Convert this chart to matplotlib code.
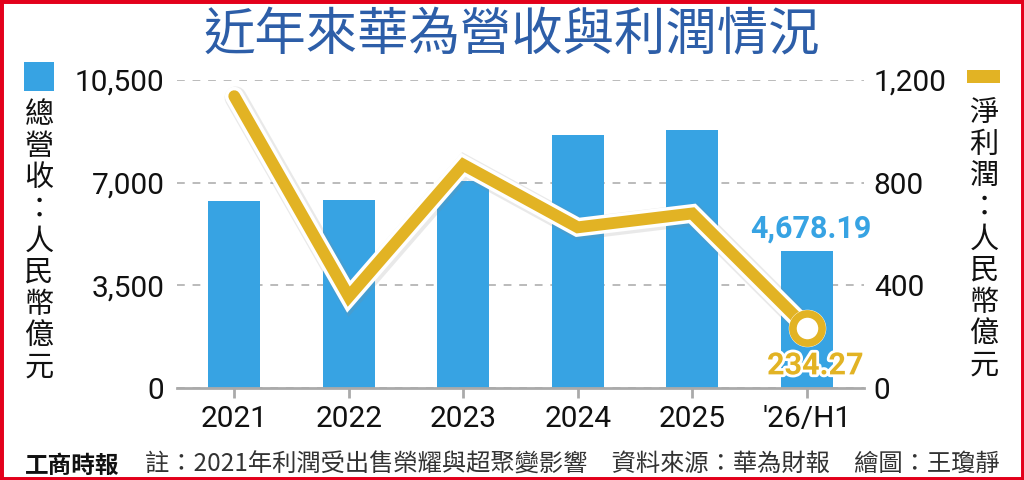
import matplotlib
matplotlib.use("Agg")
import matplotlib.pyplot as plt
import matplotlib.patheffects as pe
from matplotlib.patches import Rectangle

# data (人民幣億元)
years = ["2021", "2022", "2023", "2024", "2025", "'26/H1"]
revenue = [6368, 6423, 7042, 8621, 8800, 4678.19]
net_profit = [1137, 356, 870, 626, 680, 234.27]

rev_ticks = [0, 3500, 7000, 10500]
profit_ticks = [0, 400, 800, 1200]

title = "近年來華為營收與利潤情況"
left_label = "總營收：人民幣億元"
right_label = "淨利潤：人民幣億元"
logo = "工商時報"
note = "註：2021年利潤受出售榮耀與超聚變影響　資料來源：華為財報　繪圖：王瓊靜"

BLUE = "#37a3e3"
GOLD = "#e2b324"
TITLE_BLUE = "#2d5ea8"
GRAY = "#aaaaaa"

plt.rcParams['font.family'] = ['Roboto', 'Noto Sans CJK TC', 'DejaVu Sans']
CJK = ['Noto Sans CJK TC', 'DejaVu Sans']

W, H = 1024, 480
fig = plt.figure(figsize=(W / 100, H / 100), dpi=100)
ax = fig.add_axes([177 / W, 1 - 388 / H, (864 - 177) / W, (388 - 80) / H])

x = list(range(len(years)))
ax.bar(x, revenue, width=0.45, color=BLUE, zorder=2)
ax.set_xlim(-0.5, 5.5)
ax.set_ylim(0, 10500)
ax.set_yticks(rev_ticks)
ax.set_yticklabels([f"{v:,}" for v in rev_ticks])
ax.set_xticks(x)
ax.set_xticklabels(years)
ax.grid(axis='y', color='#bbbbbb', linestyle=(0, (4, 4)), linewidth=1.4)
ax.set_axisbelow(True)
for s in ['top', 'left', 'right']:
    ax.spines[s].set_visible(False)
ax.spines['bottom'].set_color(GRAY)
ax.spines['bottom'].set_linewidth(2)
ax.tick_params(axis='x', length=7, width=2, color=GRAY, labelsize=21.5, pad=5, labelcolor='#111111')
ax.tick_params(axis='y', length=0, labelsize=21.5, pad=9, labelcolor='#111111')

ax.annotate(f"{revenue[-1]:,.2f}", (x[-1], revenue[-1]), xytext=(3, 5),
            textcoords='offset points', ha='center', va='bottom',
            color=BLUE, fontsize=22, fontweight='bold')

# net profit line on right axis
ax2 = ax.twinx()
ax2.set_ylim(0, 1200)
ax2.set_yticks(profit_ticks)
ax2.set_yticklabels([f"{v:,}" for v in profit_ticks])
for s in ['top', 'left', 'right', 'bottom']:
    ax2.spines[s].set_visible(False)
ax2.tick_params(axis='y', length=0, labelsize=21.5, pad=7, labelcolor='#111111')

line_fx = [pe.SimpleLineShadow(offset=(1, -1), shadow_color='#888888', alpha=0.18, linewidth=16),
           pe.Stroke(linewidth=13.5, foreground='white'), pe.Normal()]
ax2.plot(x, net_profit, color=GOLD, lw=8.5, solid_joinstyle='miter',
         solid_capstyle='round', path_effects=line_fx, clip_on=False, zorder=3)
ax2.plot([x[-1]], [net_profit[-1]], marker='o', ms=27, mfc='white', mec='white',
         mew=0, zorder=4, clip_on=False)
ax2.plot([x[-1]], [net_profit[-1]], marker='o', ms=21, mfc='white', mec=GOLD,
         mew=5.5, zorder=5, clip_on=False)
ax2.annotate(f"{net_profit[-1]:.2f}", (x[-1], net_profit[-1]), xytext=(6, -27),
             textcoords='offset points', ha='center', va='center',
             color=GOLD, fontsize=22, fontweight='bold', zorder=6,
             path_effects=[pe.withStroke(linewidth=4, foreground='white')])

# title
fig.text(512 / W, 1 - 36 / H, title, ha='center', va='center', fontsize=37,
         color=TITLE_BLUE, family=CJK, fontweight='medium')

# legend swatches
fig.add_artist(Rectangle((24 / W, 1 - 91 / H), 30 / W, 29 / H, transform=fig.transFigure,
                         facecolor=BLUE, edgecolor='none'))
fig.add_artist(Rectangle((967 / W, 1 - 83 / H), 33 / W, 13 / H, transform=fig.transFigure,
                         facecolor=GOLD, edgecolor='none'))

# vertical axis titles
for i, ch in enumerate(left_label):
    fig.text(39 / W, 1 - (115 + i * 31.6) / H, ch, ha='center', va='center',
             fontsize=21, family=CJK, color='#111111')
for i, ch in enumerate(right_label):
    fig.text(984 / W, 1 - (113 + i * 31.6) / H, ch, ha='center', va='center',
             fontsize=21, family=CJK, color='#111111')

# footer
fig.text(25 / W, 1 - 466 / H, logo, ha='left', va='center', fontsize=17,
         family=CJK, fontweight='heavy', color='#111111')
fig.text(145 / W, 1 - 465 / H, note, ha='left', va='center', fontsize=17.5,
         family=CJK, color='#333333')

# red frame
fig.add_artist(Rectangle((0, 0), 1, 1, transform=fig.transFigure, fill=False,
                         edgecolor='#e3001b', linewidth=5))

fig.savefig("out.png", dpi=100)
